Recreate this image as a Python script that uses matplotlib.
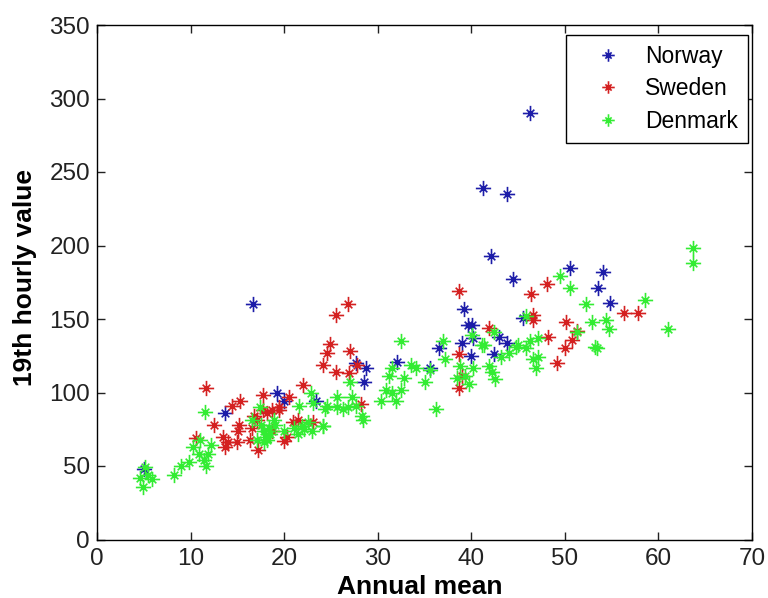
import matplotlib
matplotlib.use("Agg")
import matplotlib.pyplot as plt
from matplotlib.path import Path

norway_x = [5.0, 13.7, 16.7, 19.2, 20.0, 23.4, 27.7, 28.7, 28.5, 32.1, 35.6, 36.5, 39.2, 39.0,
            39.7, 40.1, 40.2, 40.0, 41.2, 42.1, 42.4, 43.0, 43.8, 43.8, 44.5, 45.5, 46.3, 50.5,
            53.5, 54.1, 54.8]
norway_y = [48, 86, 160, 100, 94, 94, 120, 117, 107, 121, 117, 130, 157, 134,
            146, 146, 137, 125, 239, 193, 126, 138, 134, 235, 177, 151, 290, 185,
            171, 182, 161]

sweden_x = [10.6, 11.7, 12.5, 13.5, 13.7, 14.0, 14.4, 15.3, 15.2, 15.1, 15.0, 16.3, 16.6, 16.8,
            17.2, 17.1, 17.7, 17.7, 18.2, 18.7, 18.7, 19.5, 19.5, 20.0, 20.5, 20.9, 20.3, 21.5,
            22.0, 23.1, 24.1, 24.6, 24.9, 25.5, 25.5, 26.8, 27.0, 26.9, 27.8, 28.2, 38.7, 38.7,
            38.7, 39.0, 41.9, 46.4, 46.6, 46.6, 48.1, 48.2, 49.2, 50.1, 50.0, 50.8, 51.3, 56.3,
            57.8]
sweden_y = [69, 103, 78, 70, 63, 66, 91, 94, 78, 74, 66, 68, 76, 84,
            61, 81, 98, 88, 86, 88, 74, 88, 90, 67, 97, 80, 70, 81,
            105, 80, 119, 127, 133, 153, 114, 160, 128, 113, 119, 92, 169, 103,
            126, 111, 144, 167, 153, 149, 174, 138, 120, 148, 130, 136, 142, 154,
            154]

denmark_x = [4.6, 4.9, 5.4, 5.9, 5.1, 8.2, 9.0, 9.8, 10.3, 10.9, 11.4, 11.6, 11.5, 11.9,
             12.2, 11.0, 16.6, 17.4, 17.9, 18.2, 18.4, 18.9, 17.1, 18.0, 17.8, 18.5, 19.0, 17.5,
             20.0, 21.0, 22.1, 21.5, 22.5, 23.0, 22.9, 24.2, 23.1, 24.4, 25.7, 26.3, 27.0, 27.3,
             28.3, 28.4, 26.8, 21.6, 24.6, 25.7, 27.7, 24.1, 21.9,
             32.5, 30.4, 30.9, 31.2, 31.5, 31.5, 32.0, 32.5, 32.8, 33.6, 34.1, 35.1, 35.6,
             36.2, 37.0, 37.2, 38.8, 38.5, 39.3, 39.8, 40.1, 40.2, 41.1, 41.4, 41.9, 42.2,
             42.5, 42.4, 43.2, 44.0, 45.0, 45.8, 46.3, 46.6, 46.9, 47.1, 47.1, 45.9, 44.8,
             49.5, 50.6, 52.3, 52.9, 53.2, 53.4, 54.4, 54.7, 51.3, 58.6, 61.0, 63.7, 63.7]
denmark_y = [42, 36, 44, 41, 49, 44, 50, 53, 63, 58, 54, 50, 87, 58,
             64, 68, 81, 90, 74, 68, 76, 81, 68, 70, 66, 72, 78, 78,
             74, 76, 75, 72, 80, 74, 100, 77, 93, 89, 97, 89, 107, 97,
             84, 81, 90, 91, 91, 90, 91, 77, 77,
             135, 94, 102, 111, 117, 100, 94, 102, 110, 119, 117, 107, 115,
             89, 135, 123, 118, 110, 111, 106, 139, 117, 132, 132, 118, 114,
             109, 141, 124, 127, 132, 130, 135, 123, 117, 124, 137, 152, 131,
             179, 171, 160, 148, 131, 130, 149, 143, 141, 163, 143, 198, 188]

series_names = ["Norway", "Sweden", "Denmark"]

plt.rcParams['font.family'] = ['Liberation Sans', 'DejaVu Sans']

# MATLAB-like asterisk: plus with shorter diagonal strokes
d = 0.5
asterisk = Path([(-1, 0), (1, 0), (0, -1), (0, 1), (-d, -d), (d, d), (-d, d), (d, -d)],
                [Path.MOVETO, Path.LINETO] * 4)

fig = plt.figure(figsize=(7.68, 5.98), dpi=100)
ax = fig.add_axes([97 / 768, 1 - 539.5 / 598, (752 - 97) / 768, (539.5 - 25) / 598])

colors = ['#1c1ca8', '#d42020', '#33ec33']
for xs, ys, c, name in zip([norway_x, sweden_x, denmark_x],
                           [norway_y, sweden_y, denmark_y], colors, series_names):
    ax.plot(xs, ys, linestyle='none', marker=asterisk, markersize=11,
            markeredgewidth=1.2, color=c, label=name)

ax.set_xlim(0, 70)
ax.set_ylim(0, 350)
ax.set_xticks(range(0, 71, 10))
ax.set_yticks(range(0, 351, 50))
ax.tick_params(direction='in', top=True, right=True, length=6, width=1,
               labelsize=17.5, colors='#222222')
ax.tick_params(axis='x', pad=6)
ax.tick_params(axis='y', pad=5)
for s in ax.spines.values():
    s.set_linewidth(1.0)

ax.set_xlabel("Annual mean", fontsize=19, fontweight='bold')
ax.set_ylabel("19th hourly value", fontsize=19, fontweight='bold')
ax.xaxis.set_label_coords(0.493, -0.069)
ax.yaxis.set_label_coords(-0.092, 0.51)

leg = ax.legend(loc='upper right', bbox_to_anchor=(0.9939, 0.9806), borderaxespad=0,
                fontsize=16.5, frameon=True, fancybox=False, edgecolor='black',
                framealpha=1, handletextpad=0.2, borderpad=0.45, labelspacing=0.4,
                handlelength=2.8)
leg.get_frame().set_linewidth(1.0)
for h in leg.legend_handles:
    h.set_markersize(9)

fig.savefig("out.png", dpi=100)
